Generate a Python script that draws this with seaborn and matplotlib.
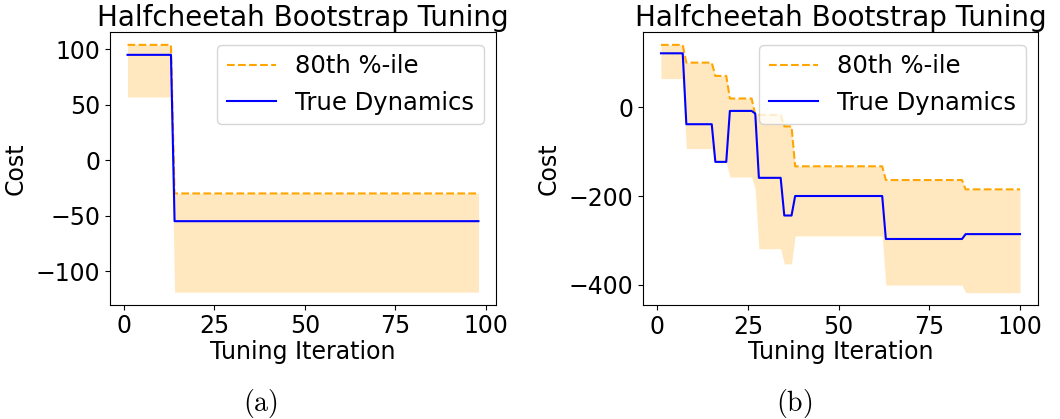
import numpy as np
import pandas as pd
import matplotlib
matplotlib.use("Agg")
import matplotlib.pyplot as plt
import seaborn as sns

plt.rcParams["mathtext.fontset"] = "cm"
plt.rcParams["font.family"] = ["DejaVu Sans"]

TITLE = "Halfcheetah Bootstrap Tuning"
LABEL_P80 = "80th %-ile"
LABEL_TRUE = "True Dynamics"

# ---- panel (a): piecewise-constant runs (run length, value per run) ----
a_run_len = [13, 85]
a_true = [95, -55]
a_p80 = [104, -30]
a_low = [57, -119]

# ---- panel (b) ----
b_run_len = [7, 8, 4, 7, 1, 7, 3, 25, 22, 16]
b_true = [122, -38, -123, -8, -14, -159, -244, -200, -297, -286]
b_p80 = [141, 101, 71, 20, -17, -17, -43, -133, -164, -185]
b_low = [65, -93, -125, -157, -185, -319, -353, -290, -401, -418]


def expand(run_len, true, p80, low):
    n = sum(run_len)
    return pd.DataFrame({
        "iteration": np.arange(1, n + 1),
        "true": np.repeat(true, run_len),
        "p80": np.repeat(p80, run_len),
        "low": np.repeat(low, run_len),
    })


df_a = expand(a_run_len, a_true, a_p80, a_low)
df_b = expand(b_run_len, b_true, b_p80, b_low)

W, H = 1060, 419
fig = plt.figure(figsize=(W / 100, H / 100), dpi=100)


def px_axes(x0, x1, y0, y1):
    return fig.add_axes([x0 / W, 1 - y1 / H, (x1 - x0) / W, (y1 - y0) / H])


ax_a = px_axes(110, 496, 32.5, 304.5)
ax_b = px_axes(643, 1038, 32.5, 305)

for ax, df in ((ax_a, df_a), (ax_b, df_b)):
    ax.fill_between(df["iteration"], df["low"], df["p80"],
                    color="orange", alpha=0.25, linewidth=0)
    sns.lineplot(data=df, x="iteration", y="p80", ax=ax, color="orange",
                 linestyle="--", linewidth=1.5, label=LABEL_P80)
    sns.lineplot(data=df, x="iteration", y="true", ax=ax, color="blue",
                 linewidth=1.5, label=LABEL_TRUE)
    ax.set_title(TITLE, fontsize=20, pad=5)
    ax.set_xlabel("Tuning Iteration", fontsize=17, labelpad=1)
    ax.set_ylabel("Cost", fontsize=17, labelpad=6)
    ax.tick_params(labelsize=17)
    ax.set_xticks([0, 25, 50, 75, 100])
    ax.legend(loc="upper right", fontsize=17.5)

ax_a.set_yticks([100, 50, 0, -50, -100])
ax_b.set_yticks([0, -200, -400])

fig.text(260 / W, 1 - 403 / H, r"$\mathrm{(a)}$", fontsize=20,
         ha="center", va="center")
fig.text(794 / W, 1 - 403 / H, r"$\mathrm{(b)}$", fontsize=20,
         ha="center", va="center")

fig.savefig("out.png", dpi=100)
